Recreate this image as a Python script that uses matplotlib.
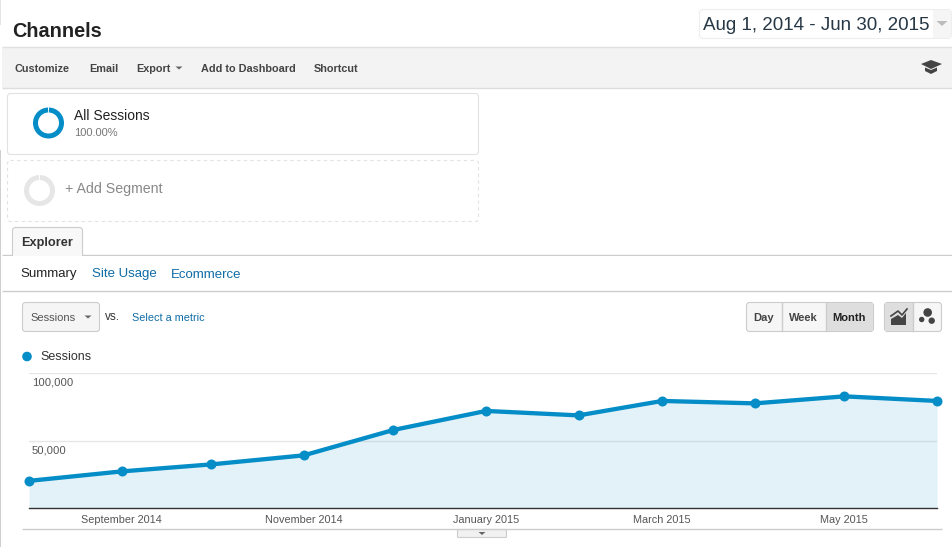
import datetime as dt

import matplotlib
matplotlib.use('Agg')
import matplotlib.pyplot as plt
import matplotlib.dates as mdates
from matplotlib.patches import FancyBboxPatch, Polygon, Rectangle, Wedge, Circle
from matplotlib.transforms import ScaledTranslation

plt.rcParams['font.family'] = ['Liberation Sans', 'DejaVu Sans']

# --- data ---
months = [dt.date(2014, 8, 1), dt.date(2014, 9, 1), dt.date(2014, 10, 1), dt.date(2014, 11, 1),
          dt.date(2014, 12, 1), dt.date(2015, 1, 1), dt.date(2015, 2, 1), dt.date(2015, 3, 1),
          dt.date(2015, 4, 1), dt.date(2015, 5, 1), dt.date(2015, 6, 1)]
sessions = [20100, 27100, 32300, 39000, 57800, 71900, 68600, 79300, 77500, 82700, 79300]
y_ticks = [50000, 100000]
toolbar_items = ['Customize', 'Email', 'Export', 'Add to Dashboard', 'Shortcut']
tab_links = ['Site Usage', 'Ecommerce']
period_buttons = ['Day', 'Week', 'Month']

BLUE = '#058dc7'
W, H = 953, 547

fig = plt.figure(figsize=(W / 100, H / 100), dpi=100, facecolor='white')

# page furniture, drawn in pixel coordinates
ui = fig.add_axes([0, 0, 1, 1])
ui.set_xlim(0, W)
ui.set_ylim(H, 0)
ui.axis('off')


def box(x0, y0, x1, y1, fc='white', ec='#e2e2e2', lw=0.8, ls='-', r=3):
    ui.add_patch(FancyBboxPatch((x0, y0), x1 - x0, y1 - y0, boxstyle=f'round,pad=0,rounding_size={r}',
                                fc=fc, ec=ec, lw=lw, ls=ls))


def hline(y, x0=2, x1=W, color='#d5d5d5'):
    ui.plot([x0, x1], [y, y], color=color, lw=1, solid_capstyle='butt')


def arrow(x, y, w=4, h=3.5, color='#666666'):
    ui.add_patch(Polygon([(x - w, y), (x + w, y), (x, y + h)], fc=color, ec='none'))


# left edge and header
ui.add_patch(Rectangle((0, 0), 1.5, 25, fc='#e4e4e4', ec='none'))
ui.add_patch(Rectangle((0, 150), 1.5, H - 150, fc='#cfcfcf', ec='none'))
ui.text(12, 31.5, 'Channels', fontsize=14.3, fontweight='bold', color='#222222', va='center')

box(699.5, 9.5, 951.5, 38.5, ec='#eeeeee', r=4)
ui.add_patch(Rectangle((933, 10), 18, 28, fc='#f5f5f5', ec='none'))
ui.text(703, 25.5, 'Aug 1, 2014 - Jun 30, 2015', fontsize=13.5, color='#263745', va='center')
arrow(942, 21, w=5.5, h=5, color='#bbbbbb')

# toolbar
ui.add_patch(Rectangle((2, 47), W, 41, fc='#f3f3f3', ec='none'))
hline(47, color='#e0e0e0')
hline(88, color='#dddddd')
for label, x in zip(toolbar_items, [15, 89, 136, 201, 314]):
    ui.text(x, 71.5, label, fontsize=7.85, fontweight='bold', color='#444444', va='baseline')
arrow(179, 66.5, w=3.5, h=3)
ui.add_patch(Polygon([(921, 64), (931, 60), (942, 64), (931, 69)], fc='#444444', ec='none'))
ui.add_patch(Polygon([(925, 67.5), (931, 70), (937, 67.5), (937, 71), (931, 74), (925, 71)], fc='#444444', ec='none'))

# segments
box(7.5, 93.5, 478.5, 154.5)
ui.add_patch(Wedge((48.5, 123), 15.5, -88, 268, width=5, fc=BLUE, ec='none'))
ui.text(74, 116.5, 'All Sessions', fontsize=10, color='#222222', va='center')
ui.text(74, 132.5, '100.00%', fontsize=8, color='#777777', va='center')

box(7.5, 160.5, 478.5, 221.5, ec='#e2e2e2', ls=(0, (3, 3)))
ui.add_patch(Wedge((39.5, 190.5), 15.5, -88, 268, width=5, fc='#e6e6e6', ec='none'))
ui.text(65, 189, '+ Add Segment', fontsize=10.2, color='#888888', va='center')

# tabs
box(12.5, 227.5, 82.5, 262, fc='#f8f8f8', ec='#cccccc')
ui.add_patch(Rectangle((2, 255.5), W, 8, fc='white', ec='none', zorder=3))
hline(255, color='#cccccc')
ui.add_patch(Rectangle((13, 254), 69, 2, fc='#f8f8f8', ec='none', zorder=3))
ui.text(21, 243, 'Explorer', fontsize=9.2, fontweight='bold', color='#333333', va='center')
ui.text(20, 277.5, 'Summary', fontsize=9.5, color='#222222', va='baseline')
for label, x in zip(tab_links, [92, 171]):
    ui.text(x, 277.5, label, fontsize=9.5, color='#0f6ca6', va='baseline')
hline(291, color='#cccccc')

# metric selector
box(22.5, 302.5, 99.5, 331.5, fc='#f5f5f5', ec='#cccccc')
ui.text(30, 321, 'Sessions', fontsize=8, color='#555555', va='baseline')
arrow(88, 315.5, w=3.5, h=3)
ui.text(105, 319.5, 'vs.', fontsize=8.5, color='#333333', va='baseline')
ui.text(132, 321, 'Select a metric', fontsize=7.8, color='#0f6ca6', va='baseline')

# period and chart type buttons
box(746.5, 302.5, 873.5, 331.5, fc='#f6f6f6', ec='#cccccc')
ui.add_patch(Rectangle((826, 303), 47, 28, fc='#dedede', ec='none'))
for x in [782, 826]:
    ui.plot([x, x], [303, 331], color='#cccccc', lw=1)
for label, x in zip(period_buttons, [764, 803.5, 849.5]):
    ui.text(x, 321, label, fontsize=8, fontweight='bold', ha='center', va='baseline',
            color='#222222' if label == 'Month' else '#444444')

box(884.5, 302.5, 941.5, 331.5, fc='#f6f6f6', ec='#cccccc')
ui.add_patch(Rectangle((885, 303), 28, 28, fc='#dedede', ec='none'))
ui.plot([913, 913], [303, 331], color='#cccccc', lw=1)
ui.add_patch(Polygon([(891, 325), (891, 319), (898, 315), (902, 318), (906, 313), (906, 325)], fc='#444444', ec='none'))
ui.plot([891, 898, 902, 907], [316, 311, 315, 309], color='#444444', lw=1.2)
for cx, cy, r in [(927.7, 312.5, 4.3), (921.7, 319.5, 2.7), (931.7, 320.7, 3.2)]:
    ui.add_patch(Circle((cx, cy), r, fc='#444444', ec='none'))

# legend
ui.add_patch(Circle((27, 356.5), 4.8, fc=BLUE, ec='none'))
ui.text(40, 357.5, 'Sessions', fontsize=9, color='#333333', va='center')

# chart footer
hline(529, 22, 942, color='#cccccc')
box(457.5, 529.5, 506.5, 537.5, fc='#f1f1f1', ec='#cccccc', r=1)
arrow(482, 532, w=3.5, h=3)

# --- chart ---
left, right, top, bottom = 29, 937, 373, 508
ax = fig.add_axes([left / W, 1 - bottom / H, (right - left) / W, (bottom - top) / H])
ax.patch.set_alpha(0)
x = mdates.date2num(months)
ax.fill_between(x, sessions, 0, color=BLUE, alpha=0.11, lw=0)
ax.plot(x, sessions, color=BLUE, lw=3.1, marker='o', ms=7.2, mew=0, clip_on=False, zorder=4)
ax.set_xlim(x[0], x[-1])
ax.set_ylim(0, 100000)

for side in ['top', 'left', 'right']:
    ax.spines[side].set_visible(False)
ax.spines['bottom'].set_color('#333333')
ax.spines['bottom'].set_linewidth(1)

ax.xaxis.set_major_locator(mdates.MonthLocator(bymonth=[1, 3, 5, 9, 11]))
ax.xaxis.set_major_formatter(mdates.DateFormatter('%B %Y'))
ax.tick_params(axis='x', length=0, pad=5, labelsize=7.8, labelcolor='#555555')

ax.set_yticks(y_ticks)
ax.set_yticklabels([f'{v:,}' for v in y_ticks])
ax.tick_params(axis='y', length=0, pad=-2, labelsize=8.1, labelcolor='#555555')
shift = ScaledTranslation(0, -3.4 / 72, fig.dpi_scale_trans)
for lbl in ax.get_yticklabels():
    lbl.set_ha('left')
    lbl.set_va('top')
    lbl.set_transform(lbl.get_transform() + shift)
ax.grid(axis='y', color='#e6e6e6', lw=1)
ax.set_axisbelow(True)

fig.savefig('out.png', dpi=100)
